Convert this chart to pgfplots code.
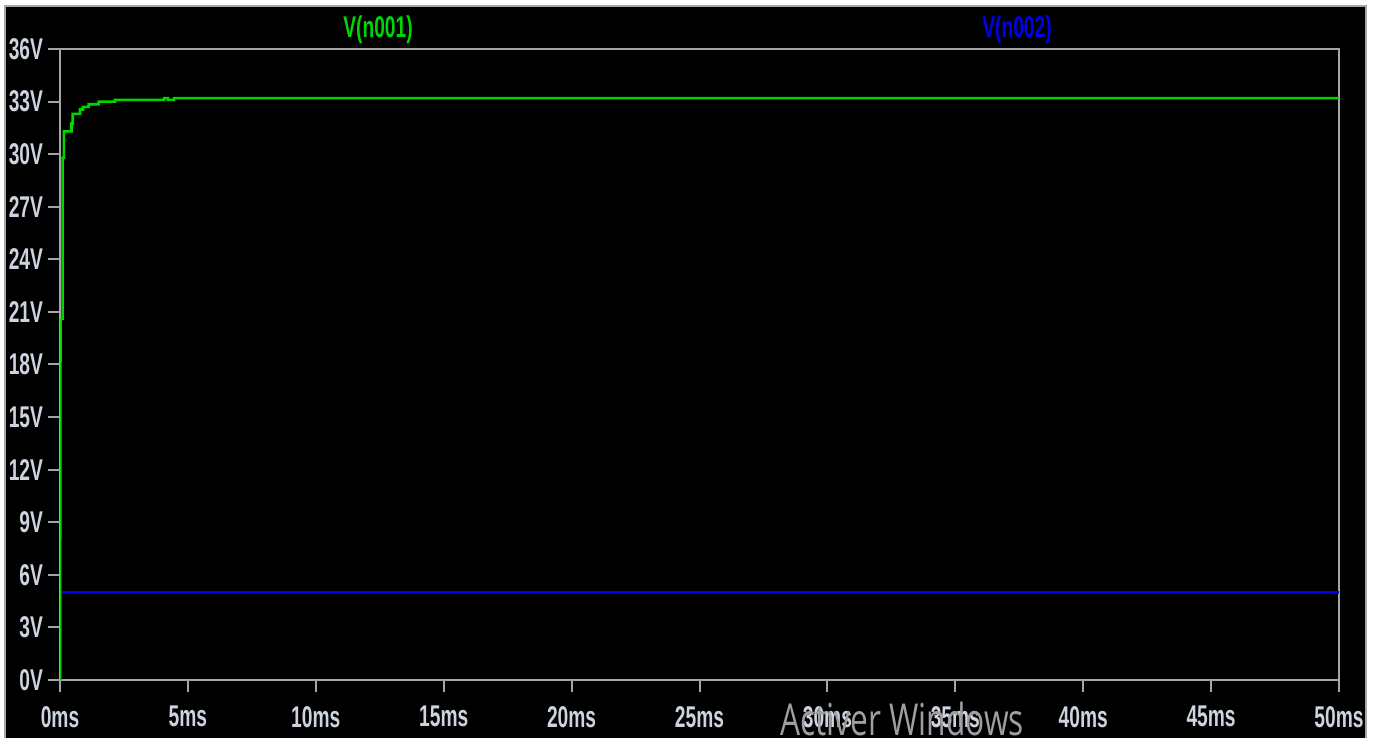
\documentclass[border=0pt]{standalone}
\usepackage{pgfplots}
\pgfplotsset{compat=1.18}
\usepackage{fontspec}
\setmainfont[FakeStretch=0.64]{Liberation Sans}
\newfontfamily\wmfont[FakeStretch=0.72]{Open Sans}
\definecolor{lbl}{RGB}{205,212,224}
\definecolor{frm}{RGB}{165,165,165}
\definecolor{vgreen}{RGB}{0,215,0}
\definecolor{vblue}{RGB}{0,0,235}

\begin{document}
\begin{tikzpicture}
\useasboundingbox (0,0) rectangle (689.5pt,369pt);
\fill[white] (0,0) rectangle (689.5pt,369pt);
\fill[black] (2.5pt,0) rectangle (683pt,366pt);
\draw[gray!70, line width=1.2pt] (2.5pt,0) -- (2.5pt,366pt) -- (683pt,366pt) -- (683pt,0);

\begin{axis}[
    at={(30pt,29pt)}, anchor=south west,
    scale only axis,
    width=639.5pt, height=315.5pt,
    xmin=0, xmax=50, ymin=0, ymax=36,
    xtick={0,5,10,15,20,25,30,35,40,45,50},
    xticklabels={0ms,5ms,10ms,15ms,20ms,25ms,30ms,35ms,40ms,45ms,50ms},
    ytick={0,3,6,9,12,15,18,21,24,27,30,33,36},
    yticklabels={0V,3V,6V,9V,12V,15V,18V,21V,24V,27V,30V,33V,36V},
    tick pos=left, tick align=outside,
    major tick length=6pt,
    axis line style={frm, line width=1pt},
    every tick/.style={frm, line width=1pt},
    tick label style={font=\bfseries\fontsize{15}{17}\selectfont, text=lbl},
    yticklabel style={xshift=1pt},
    xticklabel style={yshift=-3.5pt},
    clip=true,
]
% V(n002)
\addplot[vblue, line width=1.3pt] coordinates {
    (0,0)(0.02,5.0)(50,5.0)
};
% V(n001)
\addplot[vgreen, line width=1.3pt] coordinates {
    (0,0)(0.02,20.6)(0.1,20.6)(0.1,29.8)(0.15,29.8)(0.15,31.3)
    (0.45,31.3)(0.45,31.75)(0.5,31.75)(0.5,32.3)(0.78,32.3)(0.78,32.55)
    (0.9,32.55)(0.9,32.7)(1.12,32.7)(1.12,32.85)(1.51,32.85)(1.51,33.0)
    (2.15,33.0)(2.15,33.1)(4.07,33.1)(4.07,33.2)(4.22,33.2)(4.22,33.1)
    (4.46,33.1)(4.46,33.2)(50,33.2)
};
\end{axis}

\node[text=vgreen, font=\bfseries\fontsize{15}{17}\selectfont] at (189pt,354pt) {V(n001)};
\node[text=vblue, font=\bfseries\fontsize{15}{17}\selectfont] at (508.5pt,354pt) {V(n002)};
\node[anchor=base west, inner sep=0pt, text=gray!75, font=\wmfont\fontsize{22}{24}\selectfont] at (390pt,1.5pt) {Activer Windows};
\end{tikzpicture}
\end{document}
